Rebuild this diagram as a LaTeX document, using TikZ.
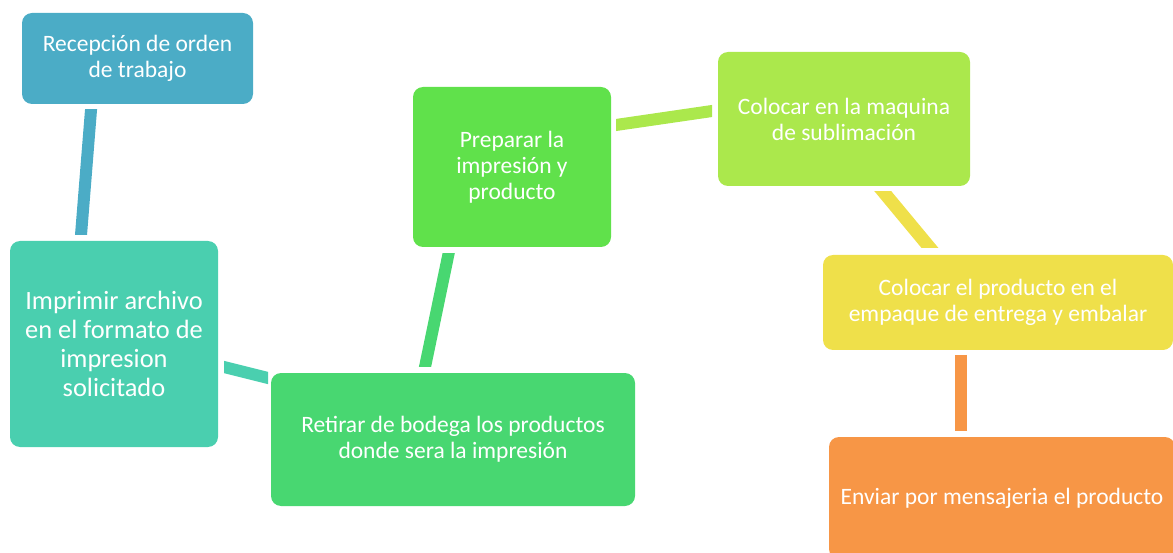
\documentclass[tikz,border=0pt]{standalone}
\usepackage{fontspec}
\setmainfont{Carlito}
\usetikzlibrary{calc}
\definecolor{cblue}{HTML}{4BACC6}
\definecolor{cteal}{HTML}{4ACFAF}
\definecolor{cgreenA}{HTML}{48D771}
\definecolor{cgreenB}{HTML}{60E14B}
\definecolor{clime}{HTML}{ABE84C}
\definecolor{cyellow}{HTML}{EFE04A}
\definecolor{corange}{HTML}{F79646}
\tikzset{
  stepbox/.style={rectangle, rounded corners=10pt, inner sep=0pt, align=center,
    text=white, font=\fontsize{23.5}{26}\selectfont},
  bigtext/.style={font=\fontsize{26.4}{29}\selectfont},
  link/.style={line width=12pt, line cap=butt, shorten <=-12pt, shorten >=-12pt}
}
\begin{document}
\begin{tikzpicture}[x=1pt,y=-1pt]
\useasboundingbox (0,0) rectangle (1173,553);
\begin{scope}
\clip (0,0) rectangle (1173,553);
\node[stepbox, fill=cblue, minimum width=231pt, minimum height=91pt] (b1) at (137.5,58.5) {Recepción de orden\\de trabajo};
\node[stepbox, bigtext, fill=cteal, minimum width=208pt, minimum height=206pt] (b2) at (114,344) {Imprimir archivo\\en el formato de\\impresion\\solicitado};
\node[stepbox, fill=cgreenA, minimum width=364pt, minimum height=133pt] (b3) at (453,439.5) {Retirar de bodega los productos\\donde sera la impresión};
\node[stepbox, fill=cgreenB, minimum width=198pt, minimum height=160pt] (b4) at (512,167) {Preparar la\\impresión y\\producto};
\node[stepbox, fill=clime, minimum width=252pt, minimum height=134pt] (b5) at (844,119) {Colocar en la maquina\\de sublimación};
\node[stepbox, fill=cyellow, minimum width=350pt, minimum height=95pt] (b6) at (998,302.5) {Colocar el producto en el\\empaque de entrega y embalar};
\node[stepbox, fill=corange, minimum width=346pt, minimum height=122pt] (b7) at (1002,498) {Enviar por mensajeria el producto};
\end{scope}

\coordinate (c1a) at (91,110);
\coordinate (c1b) at (81,235);
\coordinate (c2a) at (224,367);
\coordinate (c2b) at (268,378);
\coordinate (c3a) at (448.5,254);
\coordinate (c3b) at (425,367);
\coordinate (c4a) at (616,125);
\coordinate (c4b) at (712,111);
\coordinate (c5a) at (883.5,192);
\coordinate (c5b) at (930,248);
\coordinate (c6a) at (961,355);
\coordinate (c6b) at (961,431);

% horizontally cut ends
\begin{scope}
\clip ($(c1a)+(-40,0)$) rectangle ($(c1b)+(40,0)$);
\draw[link, cblue] (c1a) -- (c1b);
\end{scope}
\begin{scope}
\clip ($(c3a)+(-40,0)$) rectangle ($(c3b)+(40,0)$);
\draw[link, cgreenA] (c3a) -- (c3b);
\end{scope}
\begin{scope}
\clip ($(c5a)+(-40,0)$) rectangle ($(c5b)+(40,0)$);
\draw[link, cyellow, line width=13pt] (c5a) -- (c5b);
\end{scope}
% vertically cut ends
\begin{scope}
\clip ($(c2a)+(0,-40)$) rectangle ($(c2b)+(0,40)$);
\draw[link, cteal] (c2a) -- (c2b);
\end{scope}
\begin{scope}
\clip ($(c4a)+(0,-40)$) rectangle ($(c4b)+(0,40)$);
\draw[link, clime] (c4a) -- (c4b);
\end{scope}
\draw[link, corange, shorten <=0pt, shorten >=0pt] (c6a) -- (c6b);
\end{tikzpicture}
\end{document}
